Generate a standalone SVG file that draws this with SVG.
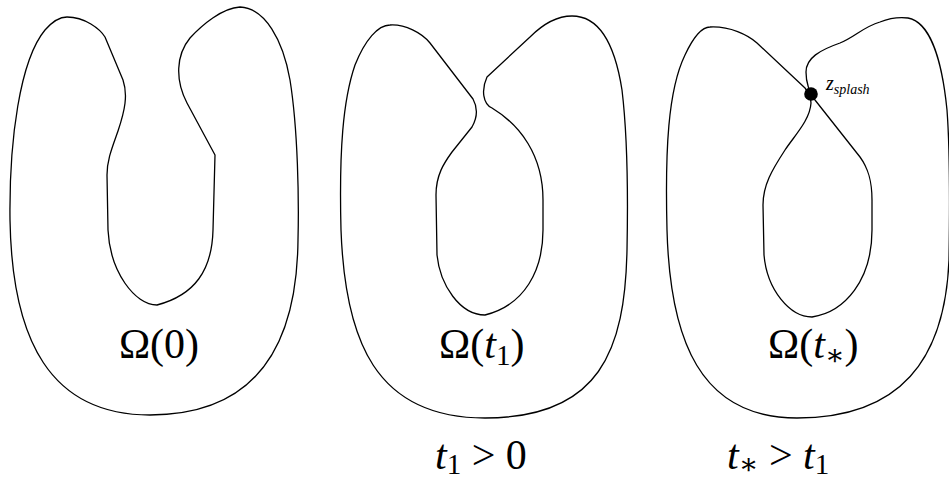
<svg xmlns="http://www.w3.org/2000/svg" width="949" height="479" viewBox="0 0 949 479">
<style>
.c{fill:none;stroke:#000;stroke-width:1.3;stroke-linejoin:round}
text{font-family:"Liberation Serif","DejaVu Serif","Noto Serif",serif;fill:#000}
.i{font-style:italic}
</style>
<rect width="949" height="479" fill="#fff"/>
<g id="omega0">
<path class="c" d="M 67,17 C 85,17 100,29 105,37 L 123,80 C 128,95 125,110 118,131 C 112,148 107,160 107,175 L 108,230 C 110,272 135,305 157,305 C 195,295 212,270 213,230 L 215,155 L 187,103 C 175,80 176,55 190,38 C 202,25 222,8 240,7 C 265,8 283,40 290,80 C 298,130 299,200 298,240 C 297,340 260,415 150,415 C 50,415 12,340 10,220 C 9,140 20,60 45,30 C 52,22 60,17 67,17 Z"/>
<text x="159" y="358" font-size="42" text-anchor="middle">Ω(0)</text>
</g>
<g id="omega_t1">
<path class="c" d="M 390,25 C 405,24 422,33 430,43 L 473,99 C 478,108 477,118 472,127 L 452,152 C 444,163 436,175 436,195 L 437,255 C 440,285 460,315 485,315 C 525,305 543,270 543,230 L 543,200 C 543,155 520,125 492,108 C 483,104 481,90 487,77 L 530,37 C 545,22 560,16 572,16 C 600,16 615,45 622,90 C 628,140 628,200 627,250 C 625,350 600,418 485,418 C 375,418 345,340 341,230 C 339,150 343,100 355,65 C 365,40 378,25 390,25 Z"/>
<text x="439" y="358" font-size="42">Ω(<tspan class="i">t</tspan><tspan font-size="29" dy="7">1</tspan><tspan dy="-7">)</tspan></text>
<text x="435" y="469" font-size="42"><tspan class="i">t</tspan><tspan font-size="29" dy="5">1</tspan><tspan dy="-5"> &gt; 0</tspan></text>
</g>
<g id="omega_tstar">
<path class="c" d="M 710,27 C 730,26 748,35 757,43 L 805,88 C 809,93 811,98 811,103 C 810,120 795,135 785,150 C 772,170 763,185 763,205 L 764,255 C 767,290 790,317 812,317 C 845,312 872,280 872,230 L 872,200 C 872,180 868,168 860,157 L 815,100 C 810,93 806,85 806,72 C 806,58 820,50 840,43 C 855,37 863,27 880,22 C 890,18 900,17 908,18 C 930,22 942,60 947,110 C 950,150 950,200 949,260 C 945,360 900,418 797,418 C 700,418 670,340 667,230 C 665,150 668,90 685,55 C 692,40 700,27 710,27 Z"/>
<circle cx="811" cy="94" r="6.8" fill="#000"/>
<text x="826" y="90" font-size="20"><tspan class="i">z</tspan><tspan class="i" font-size="14" dy="4">splash</tspan></text>
<text x="768" y="358" font-size="42">Ω(<tspan class="i">t</tspan><tspan font-size="29" dy="7">∗</tspan><tspan dy="-7">)</tspan></text>
<text x="727" y="469" font-size="42"><tspan class="i">t</tspan><tspan font-size="29" dy="5">∗</tspan><tspan dy="-5"> &gt; </tspan><tspan class="i">t</tspan><tspan font-size="29" dy="5">1</tspan></text>
</g>
<g id="connectors"/>
</svg>
